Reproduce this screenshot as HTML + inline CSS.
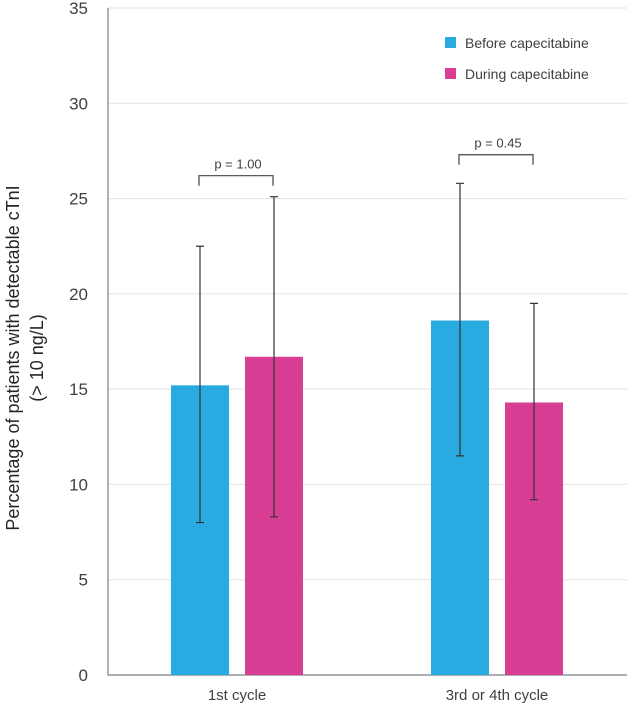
<!DOCTYPE html>
<html><head><meta charset="utf-8"><style>
body{margin:0;background:#fff;}
svg{display:block;font-family:"Liberation Sans",sans-serif;}
</style></head><body>
<svg id="c" width="627" height="712"></svg>
<script>
const categories=["1st cycle","3rd or 4th cycle"];
const seriesNames=["Before capecitabine","During capecitabine"];
const beforeVals=[15.2,18.6];
const duringVals=[16.7,14.3];
const beforeLo=[8.0,11.5];
const beforeHi=[22.5,25.8];
const duringLo=[8.3,9.2];
const duringHi=[25.1,19.5];
const pLabels=["p = 1.00","p = 0.45"];
const bracketVals=[26.2,27.3];
const yTicks=[0,5,10,15,20,25,30,35];
const colors=["#29ABE2","#D83E94"];
const NS="http://www.w3.org/2000/svg";
const svg=document.getElementById('c');
const y0=675,yTop=8,yMax=35;
const Y=v=>y0-(v/yMax)*(y0-yTop);
const groupX=i=>237+i*260;
function mk(t,a,p){const e=document.createElementNS(NS,t);for(const k in a)e.setAttribute(k,a[k]);(p||svg).appendChild(e);return e;}
yTicks.forEach(t=>{
 if(t>0){const g=mk('line',{x1:108,x2:627,y1:Y(t),y2:Y(t),stroke:'#e3e3e3','stroke-width':1});
 
 }
 const l=mk('text',{x:88,y:Y(t)+6,'text-anchor':'end','font-size':17,fill:'#404040'});l.textContent=t;
 
 
});
const ax=mk('path',{d:`M108 ${yTop}V${y0}H627`,stroke:'#7f7f7f',fill:'none','stroke-width':1.2});


const yt=mk('text',{transform:'rotate(-90)', 'font-size':18,fill:'#262626','text-anchor':'middle'});


const t1=mk('tspan',{x:-358,y:19},yt);t1.textContent='Percentage of patients  with  detectable cTnI';
const t2=mk('tspan',{x:-358,y:43},yt);t2.textContent='(> 10 ng/L)';
const bw=58;
categories.forEach((c,i)=>{
 const gx=groupX(i);
 [[beforeVals,beforeLo,beforeHi],[duringVals,duringLo,duringHi]].forEach((s,j)=>{
  const x=gx-66+j*74;
  const b=mk('rect',{x:x,y:Y(s[0][i]),width:bw,height:y0-Y(s[0][i]),fill:colors[j]});
  
  
  const cx=x+bw/2;
  const e=mk('path',{d:`M${cx} ${Y(s[1][i])}V${Y(s[2][i])}M${cx-4} ${Y(s[1][i])}H${cx+4}M${cx-4} ${Y(s[2][i])}H${cx+4}`,stroke:'#333','stroke-width':1.2,fill:'none'});
  
  
 });
 const xl=mk('text',{x:gx,y:700,'text-anchor':'middle','font-size':15,fill:'#404040'});xl.textContent=c;
 
 
 const by=Y(bracketVals[i]);
 const br=mk('path',{d:`M${gx-38} ${by+10}V${by}H${gx+36}V${by+10}`,stroke:'#444',fill:'none','stroke-width':1.2});
 
 
 const pt=mk('text',{x:gx+1,y:by-7,'text-anchor':'middle','font-size':13,fill:'#404040'});pt.textContent=pLabels[i];
 
 
});
seriesNames.forEach((n,j)=>{
 const ly=43+j*31;
 const r=mk('rect',{x:445,y:ly-6,width:11,height:11,fill:colors[j]});
 
 
 const t=mk('text',{x:465,y:ly+5,'font-size':14,fill:'#404040'});t.textContent=n;
 
 
});
</script>
</body></html>
